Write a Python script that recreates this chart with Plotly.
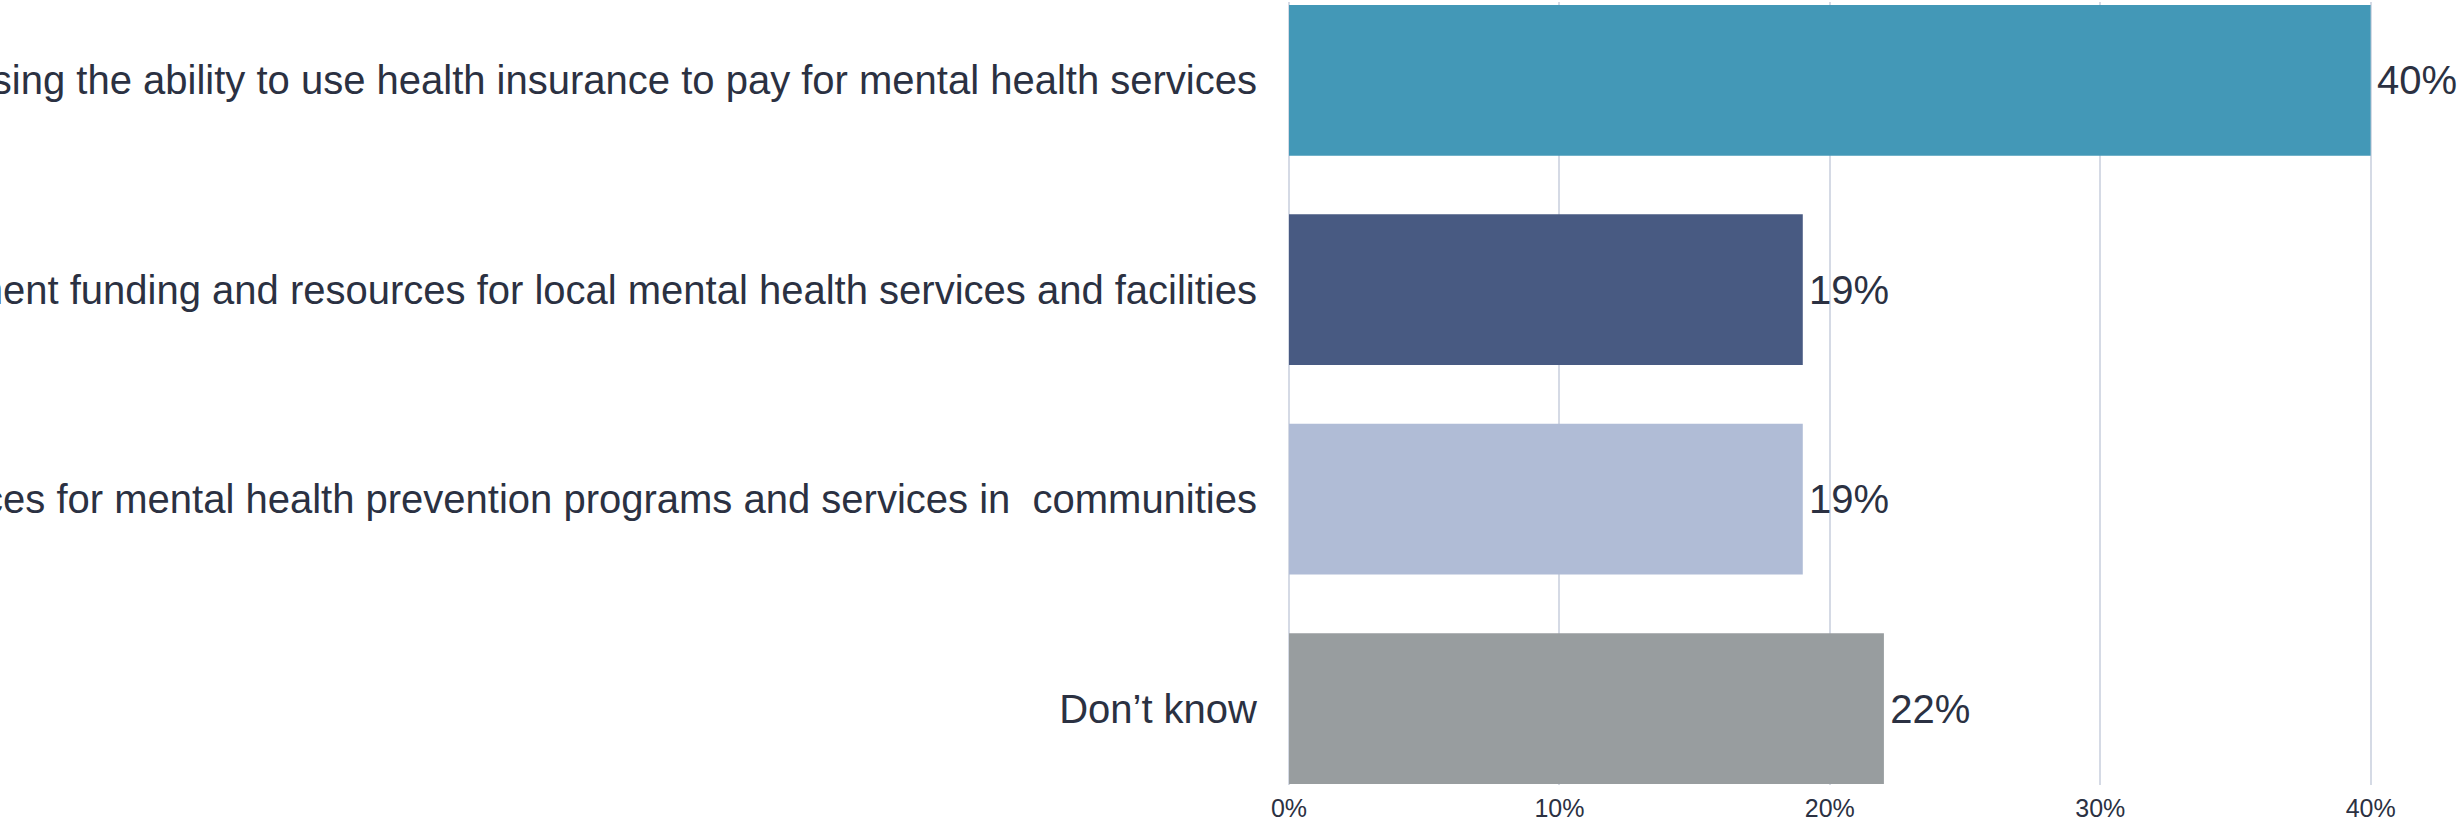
import plotly.graph_objects as go

TEXT_COLOR = "#2b3142"
GRID_COLOR = "#d5dae5"
FONT = "Helvetica Neue, Helvetica, Arial, Liberation Sans, sans-serif"

# categories listed top to bottom as in the picture
categories = [
    "Increasing the ability to use health insurance to pay for mental health services",
    "Increasing government funding and resources for local mental health services and facilities",
    "Increasing resources for mental health prevention programs and services in  communities",
    "Don\u2019t know",
]
values = [40, 19, 19, 22]
bar_colors = ["#4398b7", "#485a82", "#b0bcd6", "#989d9f"]
x_ticks = [0, 10, 20, 30, 40]
x_tick_labels = ["0%", "10%", "20%", "30%", "40%"]

fig = go.Figure()

fig.add_trace(go.Bar(
    x=values,
    y=categories,
    orientation="h",
    marker=dict(color=bar_colors, line_width=0),
    # hair space keeps the label a little off the bar end
    text=[f"\u200a{v}%" for v in values],
    textposition="outside",
    textfont=dict(size=40, color=TEXT_COLOR, family=FONT),
    cliponaxis=False,
    hovertemplate="%{y}: %{x}%<extra></extra>",
))

fig.update_layout(
    width=2458,
    height=822,
    font=dict(family=FONT, color=TEXT_COLOR),
    plot_bgcolor="white",
    paper_bgcolor="white",
    showlegend=False,
    bargap=0.28,
    margin=dict(l=1289, r=86, t=2, b=37, autoexpand=False),
    xaxis=dict(
        range=[0, 40.05],
        tickvals=x_ticks,
        ticktext=x_tick_labels,
        showgrid=True,
        gridcolor=GRID_COLOR,
        gridwidth=2,
        zeroline=True,
        zerolinecolor=GRID_COLOR,
        zerolinewidth=2,
        tickfont=dict(size=25, color=TEXT_COLOR),
        ticklabelstandoff=6,
        automargin=False,
        fixedrange=True,
    ),
    yaxis=dict(
        type="category",
        categoryorder="array",
        categoryarray=categories,
        range=[3.365, -0.374],
        showgrid=False,
        zeroline=False,
        tickfont=dict(size=40, color=TEXT_COLOR),
        ticklabelstandoff=31,
        automargin=False,
        fixedrange=True,
    ),
)

# page margin would push the fixed-size figure 8px right and down
fig.write_html(
    "out.html",
    config={"displayModeBar": False},
    post_script="document.body.style.margin='0';",
)
